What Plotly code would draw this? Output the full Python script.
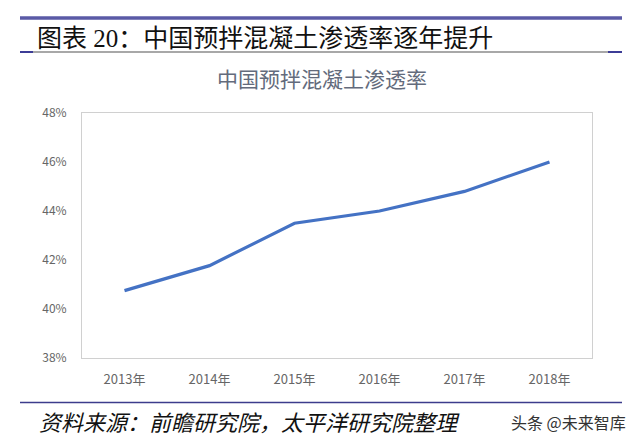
import plotly.graph_objects as go

years = ["2013年", "2014年", "2015年", "2016年", "2017年", "2018年"]
penetration = [0.4075, 0.4177, 0.435, 0.440, 0.448, 0.460]

main_title = "图表 20：中国预拌混凝土渗透率逐年提升"
chart_title = "中国预拌混凝土渗透率"
source_text = "资料来源：前瞻研究院，太平洋研究院整理"
watermark = "头条 @未来智库"

# page body has an 8px margin, so the figure origin sits at (8, 8) of the window
OFF = 8
W, H = 640 - OFF, 444 - OFF
L, R, T, B = 82 - OFF, 48, 113 - OFF, 86
PW, PH = W - L - R, H - T - B


def px(x):
    return (x - OFF - L) / PW


def py(y):
    return (H - B - (y - OFF)) / PH


fig = go.Figure()
fig.add_trace(go.Scatter(
    x=years, y=penetration, mode="lines",
    line=dict(color="#4472C4", width=3.2),
    hoverinfo="x+y",
))

shapes = [
    dict(type="line", xref="paper", yref="paper", x0=px(20), x1=px(622), y0=py(18), y1=py(18),
         line=dict(color="#5a5aa6", width=3.5)),
    dict(type="line", xref="paper", yref="paper", x0=px(20), x1=px(622), y0=py(52), y1=py(52),
         line=dict(color="#a8a8a8", width=2)),
    dict(type="line", xref="paper", yref="paper", x0=px(20), x1=px(33), y0=py(52), y1=py(52),
         line=dict(color="#3c3c96", width=2)),
    dict(type="line", xref="paper", yref="paper", x0=px(608), x1=px(622), y0=py(52), y1=py(52),
         line=dict(color="#3c3c96", width=2)),
    dict(type="line", xref="paper", yref="paper", x0=px(20), x1=px(622), y0=py(402.5), y1=py(402.5),
         line=dict(color="#3c3c8c", width=1.6)),
]

annotations = [
    dict(text=main_title, xref="paper", yref="paper", x=px(35), y=py(39), xanchor="left", yanchor="middle",
         showarrow=False, font=dict(family="Liberation Serif, Noto Sans CJK SC", size=25, color="#111111")),
    dict(text=chart_title, xref="paper", yref="paper", x=px(322), y=py(78), xanchor="center", yanchor="middle",
         showarrow=False, font=dict(family="Noto Sans CJK SC", size=21, color="#636b7c")),
    dict(text=source_text, xref="paper", yref="paper", x=px(37), y=py(421), xanchor="left", yanchor="middle",
         showarrow=False, font=dict(family="Noto Sans CJK SC", size=22, color="#111111", style="italic")),
    dict(text=watermark, xref="paper", yref="paper", x=px(628), y=py(422), xanchor="right", yanchor="middle",
         showarrow=False, font=dict(family="Noto Sans CJK SC", size=16, color="#333333")),
]

fig.update_layout(
    width=W, height=H,
    margin=dict(l=L, r=R, t=T, b=B, pad=0),
    paper_bgcolor="white", plot_bgcolor="white",
    showlegend=False,
    shapes=shapes,
    annotations=annotations,
    font=dict(family="Noto Sans CJK SC, Open Sans", color="#595959", size=12),
)
fig.update_xaxes(
    type="category", range=[-0.5, 5.5],
    showgrid=False, showline=True, mirror=True, linecolor="#d0d0d0", linewidth=1,
    ticks="", tickfont=dict(size=13, color="#666666"), ticklabelstandoff=9,
)
fig.update_yaxes(
    range=[0.38, 0.48], dtick=0.02, tickformat=".0%",
    showgrid=False, showline=True, mirror=True, linecolor="#d0d0d0", linewidth=1,
    zeroline=False, ticks="", tickfont=dict(size=12, color="#666666"), ticklabelstandoff=12,
)

fig.write_html("out.html")
